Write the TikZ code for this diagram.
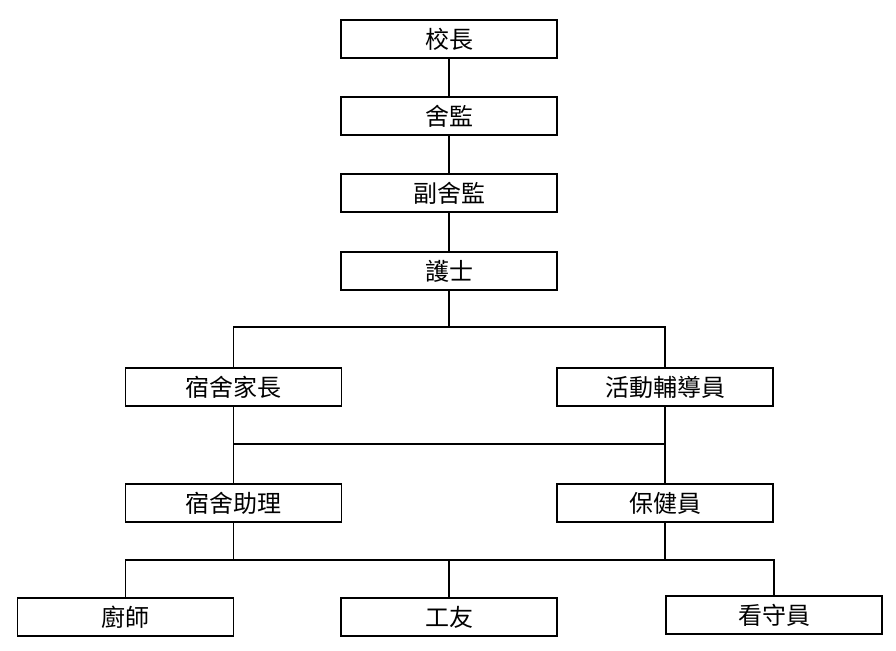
\documentclass[tikz,border=0pt]{standalone}
\usepackage{fontspec}
\setmainfont{Noto Sans CJK TC}
\usepackage{tikz}

\begin{document}
\begin{tikzpicture}[x=0.75pt,y=0.75pt,yscale=-1,xscale=1,
  post/.style={draw, line width=1pt, rectangle, minimum width=162pt, minimum height=28.5pt, inner sep=0pt, font=\fontsize{18}{21}\selectfont},
  link/.style={line width=0.9pt}]
\useasboundingbox (0,0) rectangle (896,650);

% Text Node
\node [post] (xiaozhang) at (449,39) {校長};
% Text Node
\node [post] (shejian) at (449,116) {舍監};
% Text Node
\node [post] (fushejian) at (449,193) {副舍監};
% Text Node
\node [post] (hushi) at (449,271) {護士};
% Text Node
\node [post] (jiazhang) at (233.5,387) {宿舍家長};
% Text Node
\node [post] (huodong) at (665,387) {活動輔導員};
% Text Node
\node [post] (zhuli) at (233.5,503) {宿舍助理};
% Text Node
\node [post] (baojian) at (665,503) {保健員};
% Text Node
\node [post] (chushi) at (125.5,617) {廚師};
% Text Node
\node [post] (gongyou) at (449,617) {工友};
% Text Node
\node [post] (kanshou) at (774,615) {看守員};

\coordinate (busA) at (449,327);
\coordinate (busB) at (449,444);
\coordinate (busC) at (449,560);

%Shape: Lines
\draw [link] (xiaozhang) -- (shejian);
\draw [link] (shejian) -- (fushejian);
\draw [link] (fushejian) -- (hushi);
\draw [link] (hushi) -- (busA) -| (jiazhang);
\draw [link] (busA) -| (huodong);
\draw [link] (jiazhang) -- (zhuli);
\draw [link] (huodong) -- (baojian);
\draw [link] (jiazhang.south |- busB) -- (huodong.south |- busB);
\draw [link] (zhuli.south) -- (zhuli.south |- busC);
\draw [link] (baojian.south) -- (baojian.south |- busC);
\draw [link] (chushi.north) |- (busC) -| (kanshou.north);
\draw [link] (busC) -- (gongyou);

\end{tikzpicture}
\end{document}
